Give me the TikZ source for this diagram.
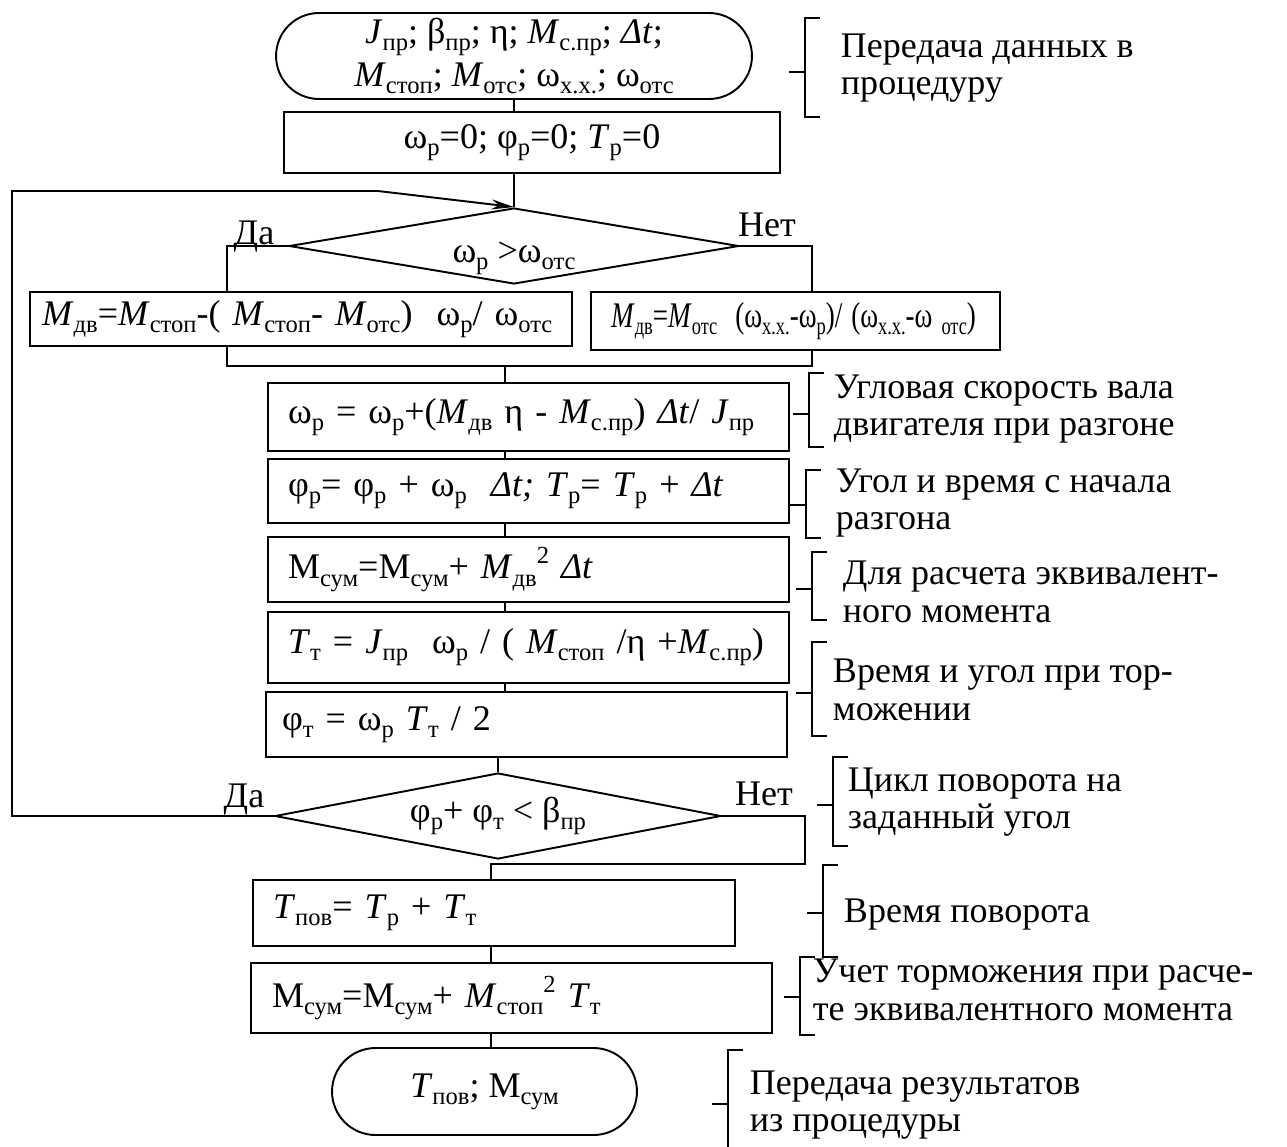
\documentclass[tikz,border=0pt]{standalone}
\usepackage{fontspec}
\setmainfont{Liberation Serif}
\usetikzlibrary{shapes.geometric,shapes.misc,arrows.meta}
\newcommand{\lo}[1]{\raisebox{-0.2em}{\fontsize{14}{14}\selectfont#1}}
\newcommand{\hi}[1]{\raisebox{0.42em}{\fontsize{14}{14}\selectfont#1}}
% bracket of a comment: x, top, bottom, tick
\newcommand{\brk}[4]{\draw (#1+15,#2) -| (#1,#3) -- (#1+15,#3) (#1-16,#4) -- (#1,#4);}
\begin{document}
\begin{tikzpicture}[x=0.02cm, y=-0.02cm, line width=1.1pt, font=\fontsize{20.5}{21.5}\selectfont,
  term/.style={draw, rounded rectangle, align=center, inner sep=0pt},
  blk/.style={draw, rectangle, align=left, inner ysep=0pt, inner xsep=0.4cm, text width=9.62cm,
    execute at begin node=\hbox\bgroup, execute at end node=\egroup},
  cond/.style={draw, diamond, inner sep=0pt},
  txt/.style={anchor=west, align=left, inner sep=0pt}]
\useasboundingbox (0,0) rectangle (1287,1146);
\begin{scope}
\node[term, minimum width=9.52cm, minimum height=1.72cm, font=\fontsize{20.5}{24.5}\selectfont] (start) at (514,56) {\textit{J}\lo{пр}; β\lo{пр}; η; \textit{M}\lo{с.пр}; \textit{Δt};\\\textit{M}\lo{стоп}; \textit{M}\lo{отс}; ω\lo{х.х.}; ω\lo{отс}};
\node[draw, minimum width=9.92cm, minimum height=1.22cm] (init) at (532,142.5) {ω\lo{р}=0; φ\lo{р}=0; \textit{T}\lo{р}=0};
\node[cond, aspect=5.9, minimum width=9cm, minimum height=1.52cm] (c1) at (514,246) {\raisebox{-0.45em}[0pt][0pt]{ω\lo{р} >ω\lo{отс}}};
\node[blk, text width=10.36cm, inner xsep=0.24cm, minimum height=1.08cm] (bL) at (301,319) {\textit{M}\lo{дв}=\textit{M}\lo{стоп}-( \textit{M}\lo{стоп}- \textit{M}\lo{отс})\ \ ω\lo{р}/ ω\lo{отс}};
\node[blk, text width=7.38cm, minimum height=1.16cm] (bR) at (795.5,321) {\scalebox{0.75}[1]{\textit{M}\lo{дв}=\textit{M}\lo{отс}\ \ (ω\lo{х.х.}-ω\lo{р})/ (ω\lo{х.х.}-ω \lo{отс})}};
\node[blk, minimum height=1.36cm] (b4) at (528.5,417) {ω\lo{р} = ω\lo{р}+(\textit{M}\lo{дв} η - \textit{M}\lo{с.пр}) \textit{Δt}/ \textit{J}\lo{пр}};
\node[blk, minimum height=1.28cm] (b5) at (528.5,491) {φ\lo{р}= φ\lo{р} + ω\lo{р}\ \ \textit{Δt; T}\lo{р}= \textit{T}\lo{р} + \textit{Δt}};
\node[blk, minimum height=1.3cm] (b6) at (528.5,569.5) {М\lo{сум}=М\lo{сум}+ \textit{M}\lo{дв}\hi{2} \textit{Δt}};
\node[blk, minimum height=1.42cm] (b7) at (528.5,647.5) {\textit{T}\lo{т} = \textit{J}\lo{пр}\ \ ω\lo{р} / ( \textit{M}\lo{стоп} /η +\textit{M}\lo{с.пр})};
\node[blk, text width=9.78cm, inner xsep=0.32cm, minimum height=1.3cm] (b8) at (526.5,724.5) {φ\lo{т} = ω\lo{р} \textit{T}\lo{т} / 2};
\node[cond, aspect=5.2, minimum width=8.92cm, minimum height=1.72cm] (c2) at (498,816) {φ\lo{р}+ φ\lo{т} < β\lo{пр}};
\node[blk, text width=8.84cm, minimum height=1.32cm] (b9) at (494,913) {\textit{T}\lo{пов}= \textit{T}\lo{р} + \textit{T}\lo{т}};
\node[blk, text width=9.58cm, inner xsep=0.42cm, minimum height=1.4cm] (b10) at (511.5,998) {М\lo{сум}=М\lo{сум}+ \textit{M}\lo{стоп}\hi{2} \textit{T}\lo{т}};
\node[term, minimum width=6.1cm, minimum height=1.74cm] (end) at (484.5,1091.5) {\textit{T}\lo{пов}; М\lo{сум}};
\node[anchor=base] (da1) at (254,244) {Да};
\node[anchor=base] (net1) at (767,236) {Нет};
\node[anchor=base] (da2) at (244,807) {Да};
\node[anchor=base] (net2) at (764,805) {Нет};
\end{scope}
\coordinate (jl) at (227,246);
\coordinate (jr) at (812,246);
\coordinate (ml) at (227,366);
\coordinate (mr) at (812,366);
\coordinate (ax) at (505,366);
\coordinate (lp) at (12,191);
\coordinate (lq) at (378,191);
\coordinate (nr) at (805,864);
\coordinate (nb) at (491,864);
\begin{scope}
\draw (start.south) -- (start.south |- init.north);
\draw (init.south -| start.south) -- (c1.north);
\draw (c1.west) -| (jl |- bL.north);
\draw (c1.east) -| (jr |- bR.north);
\draw (jl |- bL.south) -- (ml) -- (mr) -- (jr |- bR.south);
\draw (ax) -- (ax |- b4.north);
\draw (b4.south -| ax) -- (b5.north -| ax);
\draw (b5.south -| ax) -- (b6.north -| ax);
\draw (b6.south -| ax) -- (b7.north -| ax);
\draw (b7.south -| ax) -- (b8.north -| ax);
\draw (b8.south -| c2.north) -- (c2.north);
\draw[-{Stealth[length=0.45cm,width=0.2cm]}] (c2.west) -- (lp |- c2.west) -- (lp) -- (lq) -- (c1.north);
\draw (c2.east) -| (nr) -- (nb) -- (nb |- b9.north);
\draw (b9.south -| nb) -- (b10.north -| nb);
\draw (b10.south -| nb) -- (nb |- end.north);
\end{scope}
% comments
\brk{805}{18}{117}{72}
\node[txt] (n1) at (840,68) {Передача данных в\\процедуру};
\brk{809}{373}{447}{414}
\node[txt] (n2) at (833,409) {Угловая скорость вала\\двигателя при разгоне};
\brk{806}{470}{538}{505}
\node[txt] (n3) at (835,503) {Угол и время с начала\\разгона};
\brk{812}{552}{620}{589}
\node[txt] (n4) at (842,592) {Для расчета эквивалент-\\ного момента};
\brk{812}{642}{736}{693}
\node[txt] (n5) at (832,690) {Время и угол при тор-\\можении};
\brk{833}{757}{846}{805}
\node[txt] (n6) at (847,802) {Цикл поворота на\\заданный угол};
\brk{823}{865}{957}{913}
\node[txt] (n7) at (843,915) {Время поворота};
\brk{800}{957}{1035}{997}
\node[txt] (n8) at (812,990) {Учет торможения при расче-\\те эквивалентного момента};
\brk{728}{1050}{1150}{1104}
\node[txt] (n9) at (749,1105) {Передача результатов\\из процедуры};
\end{tikzpicture}
\end{document}
